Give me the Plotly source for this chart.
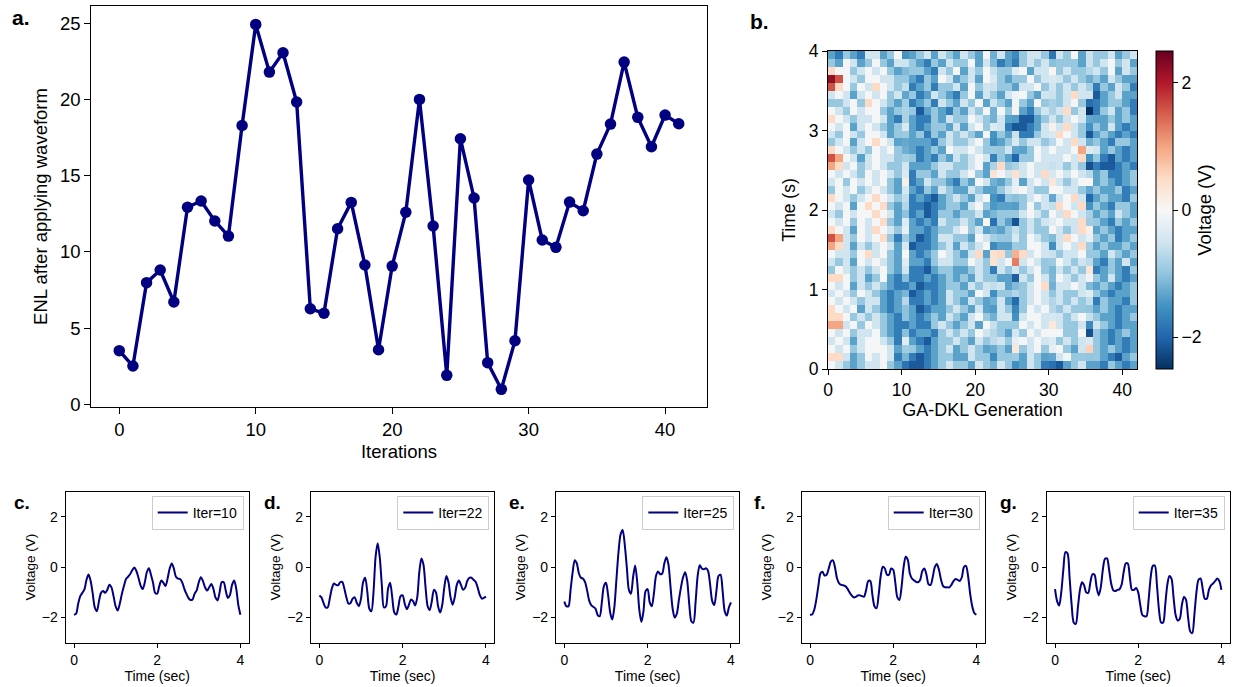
import plotly.graph_objects as go

# ---------------- data ----------------
iterations = list(range(42))
enl = [3.52, 2.51, 7.98, 8.81, 6.71, 12.93, 13.34, 12.03, 11.04, 18.3,
       24.93, 21.8, 23.07, 19.84, 6.27, 5.97, 11.52, 13.25, 9.14, 3.58,
       9.07, 12.6, 20.01, 11.7, 1.9, 17.43, 13.54, 2.73, 0.98, 4.17,
       14.72, 10.78, 10.3, 13.27, 12.7, 16.42, 18.39, 22.46, 18.83, 16.9,
       18.98, 18.41]

wave_time = [round(0.05 * i, 2) for i in range(81)]

wave_iter10 = [-1.89, -1.85, -1.45, -1.15, -1.02, -0.88, -0.5, -0.29, -0.55, -1.05,
               -1.6, -1.75, -1.35, -1.02, -0.95, -1.02, -0.9, -0.7, -0.8, -1.15,
               -1.55, -1.72, -1.45, -1.07, -0.75, -0.47, -0.38, -0.27, -0.12, -0.01,
               -0.15, -0.42, -0.72, -0.87, -0.62, -0.2, -0.04, -0.3, -0.62, -1.02,
               -1.05, -0.75, -0.53, -0.62, -0.75, -0.45, -0.05, 0.15, -0.05, -0.38,
               -0.45, -0.47, -0.6, -0.85, -1.05, -1.22, -1.3, -1.28, -1.05, -0.92,
               -0.6, -0.4, -0.55, -0.8, -0.93, -0.8, -0.67, -0.85, -1.2, -1.32,
               -1.0, -0.6, -0.6, -0.95, -1.22, -1.1, -0.7, -0.53, -0.85, -1.5, -1.89]
wave_iter22 = [-1.13, -1.2, -1.42, -1.6, -1.6, -1.25, -0.85, -0.65, -0.7, -0.72,
               -0.6, -0.58, -0.85, -1.2, -1.45, -1.42, -1.25, -1.2, -1.42, -1.55,
               -1.25, -0.6, -0.42, -0.95, -1.65, -1.75, -1.0, 0.4, 0.95, 0.4,
               -0.7, -1.6, -1.55, -0.85, -0.62, -1.2, -1.8, -1.88, -1.55, -1.15,
               -1.12, -1.45, -1.67, -1.5, -1.28, -1.35, -1.52, -1.2, -0.2, 0.35,
               0.1, -0.8, -1.55, -1.7, -1.35, -0.9, -1.0, -1.55, -1.8, -1.5,
               -0.8, -0.35, -0.6, -1.2, -1.49, -1.2, -0.7, -0.53, -0.7, -0.9,
               -0.82, -0.55, -0.42, -0.42, -0.5, -0.58, -0.8, -1.1, -1.25, -1.22, -1.17]
wave_iter25 = [-1.36, -1.55, -1.55, -0.9, -0.2, 0.28, 0.15, -0.25, -0.42, -0.46,
               -0.6, -0.95, -1.35, -1.52, -1.58, -1.65, -1.9, -1.95, -1.4, -0.75,
               -0.62, -1.1, -1.8, -2.08, -1.6, -0.5, 0.6, 1.3, 1.48, 0.9,
               0.0, -0.9, -1.05, -0.4, 0.07, -0.6, -1.7, -2.18, -1.75, -0.95,
               -0.87, -1.4, -1.55, -1.05, -0.35, -0.17, -0.28, -0.25, 0.15, 0.4,
               0.1, -0.8, -1.65, -2.0, -1.85, -1.3, -0.8, -0.4, -0.2, -0.55,
               -1.5, -2.15, -2.2, -1.4, -0.35, 0.08, -0.05, -0.08, -0.04, -0.15,
               -0.7, -1.35, -1.5, -0.95, -0.35, -0.3, -0.95, -1.75, -1.92, -1.6, -1.4]
wave_iter30 = [-1.89, -1.88, -1.7, -1.3, -0.75, -0.25, -0.18, -0.33, -0.3, -0.05,
               0.22, 0.27, 0.0, -0.45, -0.64, -0.7, -0.72, -0.75, -0.85, -1.0,
               -1.12, -1.2, -1.18, -1.12, -1.12, -1.15, -1.17, -0.9, -0.55, -0.55,
               -1.1, -1.55, -1.63, -1.1, -0.35, 0.02, -0.05, -0.3, -0.3, -0.05,
               -0.1, -0.6, -1.2, -1.3, -0.8, 0.0, 0.42, 0.3, -0.25, -0.45,
               -0.52, -0.58, -0.6, -0.5, -0.15, -0.05, -0.3, -0.68, -0.7, -0.4,
               0.0, 0.13, -0.1, -0.5, -0.75, -0.8, -0.8, -0.8, -0.7, -0.55,
               -0.47, -0.5, -0.55, -0.4, 0.0, 0.05, -0.35, -1.05, -1.55, -1.82, -1.89]
wave_iter35 = [-0.87, -1.35, -1.52, -1.0, -0.1, 0.6, 0.55, -0.4, -1.5, -2.2,
               -2.25, -1.6, -0.9, -0.6, -0.72, -1.0, -1.02, -0.6, -0.28, -0.3,
               -0.8, -1.12, -0.8, -0.1, 0.33, 0.35, -0.1, -0.65, -0.92, -0.95,
               -0.9, -0.88, -0.7, -0.2, 0.15, 0.15, -0.4, -0.9, -0.9, -0.83,
               -1.0, -1.5, -1.9, -1.95, -1.95, -1.3, -0.4, 0.05, 0.07, -0.7,
               -1.7, -2.2, -2.2, -1.5, -0.7, -0.35, -0.45, -1.2, -1.9, -2.12,
               -2.05, -1.5, -1.18, -1.3, -2.0, -2.55, -2.62, -1.9, -1.0, -0.5,
               -0.45, -0.85, -1.25, -1.25, -0.9, -0.72, -0.65, -0.55, -0.45, -0.55, -0.9]

panel_iters = [10, 22, 25, 30, 35]
panel_waves = [wave_iter10, wave_iter22, wave_iter25, wave_iter30, wave_iter35]
panel_letters = ["c.", "d.", "e.", "f.", "g."]

# heatmap: one column per GA-DKL generation, one row per 0.1 s (top row = 4 s)
level_volts = {"a": -2.45, "b": -2.1, "c": -1.75, "d": -1.35, "e": -0.95, "f": -0.5,
               "g": -0.05, "h": 0.5, "i": 1.0, "j": 1.6, "k": 2.2}
heat_rows_top_down = [
    "dcedcf fdegcd efdfed fedgef ddeffe efegdf eefdef",
    "edgfde gedfee dcedfe egdfec ddefef feeedd efgefd",
    "hggefg fgedge edcfeg dfegfe efgdff gefeed fegdfe",
    "kjgfeg gffedd cedgfd efdgfe dfegef gfefec edfedd",
    "jhgegf hgfedc deceef dgefde edffge fefefd cedfec",
    "fgfdfg fgefde cdfedc egdfed ffgedf gefhfc bdefdd",
    "eefgeh gfeddc decfed fegdfe dfedge fefgeb cdeedc",
    "gfegfg gedece bdedce dfegeg eddcef gfhefd cefdec",
    "hgfeff gfdcdd ccedfe egfedf dbbbde fefgfe ddeded",
    "gfgdfg fedebd cdeedf dfgeef cbbcdf gfhfef edfdcd",
    "fegfeg gfdeed ecedfe fedgfe ddccef fhgfee dedcdc",
    "efgdfg hgfdcd ddcefe efgefd edeffe egfhfe edceed",
    "hgfefe gfgeed cdedgf fgfede fedegf hffgie fdedcd",
    "jigfdf gffede cdcedf efgfde dfeegf efgfhf ecbdcd",
    "ihfgef gfeedd ddeffe efgdeh edfgff gfefef cbbcdc",
    "gfgfeg fgfedc eedfee fgedfg fefgfh fgfgfe deccde",
    "fgegfg fgeddc dfeedc edgfgd efdfgf gfefge dedcde",
    "egfgef gfedcd cedfed dfedfe fdgfee fgffed eddecd",
    "hgfefg hgfedc dcbdef edfgec edefgf efghfe deddce",
    "gfgdgh gheddc cbcdee dfgedd dfegef fhgfhf edceed",
    "fegfgg hgfddc dbceed eefdfe eefgfe gfhgfe dedfed",
    "gfgegf ghedcd cdcfee fedgee dfefef fgffhf edcede",
    "hgfdgf hgfecd dcdeef gefdfd efefee gfefhe dedcdd",
    "jifegf gheccd bcdffe edgfee efegfe efhgfe edecde",
    "ihfdfe fgfdcb ccdefd fefgfd dfeggf efgfhf dedded",
    "gffegh fgedcd cdegfe dfhdgh ejhfgf geffge edfede",
    "fefdgf gfedcd dceffe egfehf gffgfe fgfefe dcedfd",
    "egfefe fgedcc cbdeed defedf edefge gfefed cdedce",
    "hhgefd egdcbc cdcded edfefd defegf hgfefd edfdcd",
    "gfgdfe fedcbd bccdee dfefdf dfefgh gffgfe dedcde",
    "fgfegf edcdcb cdcdfe edgfde efefgf gfeefd edcdde",
    "gfgfef fdcdbc cdcdfe dfedef dfefgf gfefed ceddce",
    "hgfgdf edcdcd bcddef edfdef efegfg fefeef dedcdd",
    "hhgefe fedccd cdedfe dfgeef fefggf gfefgh eddcde",
    "iifgeg fedcdd ccefed efdgfe efgfgf gfeefg fedcdd",
    "gfgeff gedcdc ddcefe fegfde dfegfg fgeege edcded",
    "fgfdfg gfecdd cbdeef edfedf efgfgf gefefg edcdcd",
    "gfgefg ggfdce dcdefd efedfe dfefge fgedfh ededcd",
    "hhfdeg fgfcdc bcdeed dfeefe efdfed dfgeed edcbde",
    "gfedef fgedcb bcdefe edfedf eddfec ebdefe dcedcd",
]
generation_edges = list(range(43))
time_edges = [round(0.1 * i, 1) for i in range(41)]

# --------------- build heatmap matrix ---------------
z = []
for row in reversed(heat_rows_top_down):       # bottom (t=0) first
    cells = row.replace(" ", "")
    assert len(cells) == 42, (row, len(cells))
    z.append([level_volts[ch] for ch in cells])
# generations shown in panels c-g use their own waveform samples (cell centres)
for it, wv in zip(panel_iters, panel_waves):
    centres = wv[1::2]
    for r in range(40):
        z[r][it] = centres[r]

# --------------- figure ---------------
FONT = "Arial, Liberation Sans, sans-serif"
NAVY = "#000080"
W, H = 1239, 687


def px_x(a, b):
    return [a / W, b / W]


def px_y(top, bottom):
    return [1 - bottom / H, 1 - top / H]


fig = go.Figure()

# panel a
fig.add_trace(go.Scatter(x=iterations, y=enl, mode="lines+markers",
                         line=dict(color=NAVY, width=3.4),
                         marker=dict(color=NAVY, size=11.5),
                         showlegend=False, xaxis="x", yaxis="y"))

# panel b
rdbu_r = [[0.0, "rgb(5,48,97)"], [0.1, "rgb(33,102,172)"], [0.2, "rgb(67,147,195)"],
          [0.3, "rgb(146,197,222)"], [0.4, "rgb(209,229,240)"], [0.5, "rgb(247,247,247)"],
          [0.6, "rgb(253,219,199)"], [0.7, "rgb(244,165,130)"], [0.8, "rgb(214,96,77)"],
          [0.9, "rgb(178,24,43)"], [1.0, "rgb(103,0,31)"]]
fig.add_trace(go.Heatmap(z=z, x=generation_edges, y=time_edges,
                         colorscale=rdbu_r, zmin=-2.5, zmax=2.5,
                         xaxis="x2", yaxis="y2", hoverongaps=False,
                         colorbar=dict(
                             x=1156 / W, xanchor="left", xpad=0, ypad=0,
                             y=1 - 210 / H, yanchor="middle", len=318 / H, lenmode="fraction",
                             thickness=17, thicknessmode="pixels",
                             outlinewidth=1, outlinecolor="black",
                             tickvals=[-2, 0, 2], ticks="outside", ticklen=5,
                             tickcolor="black",
                             tickfont=dict(family=FONT, size=17.5, color="black"),
                             title=dict(text="Voltage (V)", side="right",
                                        font=dict(family=FONT, size=18.5, color="black")),
                         )))

# panels c-g
small_x = [(65.7, 248.7), (311, 494.3), (556, 739.3), (801.7, 984.7), (1046.7, 1229.7)]
legend_names = ["legend", "legend2", "legend3", "legend4", "legend5"]
for k, (it, wv) in enumerate(zip(panel_iters, panel_waves)):
    fig.add_trace(go.Scatter(x=wave_time, y=wv, mode="lines", name=f"Iter={it}",
                             line=dict(color=NAVY, width=2, shape="spline", smoothing=0.8),
                             xaxis=f"x{k + 3}", yaxis=f"y{k + 3}",
                             legend=legend_names[k], showlegend=True))

axis_common = dict(showline=True, linecolor="black", linewidth=1.2, mirror=True,
                   ticks="outside", tickcolor="black", showgrid=False, zeroline=False,
                   automargin=False)

layout = dict(
    template="none",
    width=W, height=H, margin=dict(l=0, r=0, t=0, b=0, autoexpand=False),
    paper_bgcolor="white", plot_bgcolor="white",
    font=dict(family=FONT, color="black"),
    xaxis=dict(domain=px_x(91.3, 706.7), range=[-2.05, 43.05], tickvals=[0, 10, 20, 30, 40],
               ticklen=6, tickfont=dict(size=18.5),
               title=dict(text="Iterations", font=dict(size=18.5), standoff=5),
               anchor="y", **axis_common),
    yaxis=dict(domain=px_y(6, 407), range=[-0.18, 26.14], tickvals=[0, 5, 10, 15, 20, 25],
               ticklen=6, tickfont=dict(size=18.5),
               title=dict(text="ENL after applying waveform", font=dict(size=18.5), standoff=7),
               anchor="x", **axis_common),
    xaxis2=dict(domain=px_x(828, 1137), range=[0, 42], tickvals=[0, 10, 20, 30, 40],
                ticklen=5, tickfont=dict(size=17.5),
                title=dict(text="GA-DKL Generation", font=dict(size=18), standoff=4),
                anchor="y2", **axis_common),
    yaxis2=dict(domain=px_y(51, 369), range=[0, 4], tickvals=[0, 1, 2, 3, 4],
                ticklen=5, tickfont=dict(size=17.5),
                title=dict(text="Time (s)", font=dict(size=17.5), standoff=8),
                anchor="x2", **axis_common),
)

for k in range(5):
    xa, xb = small_x[k]
    layout[f"xaxis{k + 3}"] = dict(domain=px_x(xa, xb), range=[-0.2, 4.2], tickvals=[0, 2, 4],
                                   ticklen=4, tickfont=dict(size=14),
                                   title=dict(text="Time (sec)", font=dict(size=14), standoff=2),
                                   anchor=f"y{k + 3}", **axis_common)
    layout[f"yaxis{k + 3}"] = dict(domain=px_y(491.7, 642.7), range=[-3, 3], tickvals=[-2, 0, 2],
                                   ticklen=4, tickfont=dict(size=14),
                                   title=dict(text="Voltage (V)", font=dict(size=13.5), standoff=3),
                                   anchor=f"x{k + 3}", **axis_common)
    layout[legend_names[k]] = dict(x=(xb - 5) / W, xanchor="right",
                                   y=1 - 496 / H, yanchor="top",
                                   bgcolor="white", bordercolor="#cccccc", borderwidth=1,
                                   font=dict(family=FONT, size=14, color="black"),
                                   itemwidth=30, tracegroupgap=0)

fig.update_layout(**layout)

letters = [("a.", 10, 4), ("b.", 748, 8)]
letter_small_x = [12, 262, 507, 752, 998]
for k in range(5):
    letters.append((panel_letters[k], letter_small_x[k], 490))
for txt, lx, ly in letters:
    fig.add_annotation(text=f"<b>{txt}</b>", x=lx / W, y=1 - ly / H, xref="paper", yref="paper",
                       xanchor="left", yanchor="top", showarrow=False,
                       font=dict(family=FONT, size=21 if txt in ("a.", "b.") else 19, color="black"))

fig.write_html("out.html", config={"displayModeBar": False},
               post_script="document.body.style.margin='0';document.body.style.padding='0';")
